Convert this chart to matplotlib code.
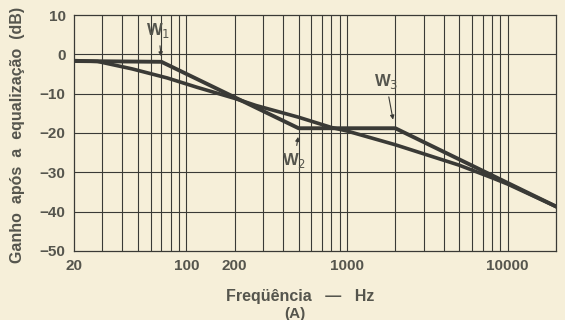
import numpy as np
import matplotlib
matplotlib.use("Agg")
import matplotlib.pyplot as plt

# asymptotic (straight-line) response, corners W1, W2, W3
asym_freq = [20, 70, 500, 2000, 20000]
asym_db = [-1.7, -1.9, -18.8, -18.8, -38.7]

# measured equalised response
curve_freq = [20, 28, 46, 76, 117, 200, 271, 500, 800, 1000, 2000, 5000, 8000, 10000, 20000]
curve_db = [-1.6, -1.8, -3.7, -6.0, -8.4, -11.2, -13.0, -16.0, -18.6, -19.5, -23.0, -28.2, -31.4, -33.0, -38.7]

xtick_vals = [20, 100, 200, 1000, 10000]
ytick_vals = [10, 0, -10, -20, -30, -40, -50]

paper = "#f6efd9"
ink = "#3a3a36"
text_col = "#55554d"

plt.rcParams["font.family"] = ["Liberation Sans", "DejaVu Sans"]
fig = plt.figure(figsize=(5.65, 3.2), dpi=100, facecolor=paper)
ax = fig.add_axes([0.131, 0.216, 0.853, 0.737], facecolor=paper)

ax.set_xscale("log")
ax.set_xlim(20, 20000)
ax.set_ylim(-50, 10)

# grid: every 1-9 step of each decade up to 10 kHz, every 10 dB
grid_f = [m * 10 ** d for d in (1, 2, 3, 4) for m in range(1, 10)]
grid_f = [f for f in grid_f if 20 < f <= 10000]
ax.vlines(grid_f, -50, 10, color=ink, lw=0.8, zorder=1)
ax.hlines(np.arange(-40, 10, 10), 20, 20000, color=ink, lw=0.8, zorder=1)

for s in ax.spines.values():
    s.set_color(ink)
    s.set_linewidth(0.9)

ax.plot(asym_freq, asym_db, color=ink, lw=2.8, solid_joinstyle="miter", zorder=3)
ax.plot(curve_freq, curve_db, color=ink, lw=2.6, zorder=3)

ax.set_xticks(xtick_vals)
ax.set_xticklabels([str(v) for v in xtick_vals])
ax.minorticks_off()
ax.set_yticks(ytick_vals)
ax.set_yticklabels([str(v).replace("-", "\u2212") for v in ytick_vals])
ax.tick_params(length=0, pad=6, labelsize=11, labelcolor=text_col)
for lab in ax.get_xticklabels() + ax.get_yticklabels():
    lab.set_fontweight("bold")

fig.text(300 / 565, 1 - 297 / 320, "Freqüência   \u2014   Hz", fontsize=11.5,
         fontweight="bold", color=text_col, ha="center", va="center")
fig.text(295 / 565, 1 - 314 / 320, "(A)", fontsize=11,
         fontweight="bold", color=text_col, ha="center", va="center")
fig.text(18 / 565, 1 - 135 / 320, "Ganho  após  a  equalização  (dB)",
         fontsize=11.5, fontweight="bold", color=text_col, rotation=90,
         ha="center", va="center")

arrow = dict(arrowstyle="-|>", color=ink, lw=0.8, mutation_scale=6)
ax.annotate("W$_1$", xy=(70, -1.2), xytext=(67, 6.0), ha="center", va="center",
            fontsize=12, fontweight="bold", color=text_col, arrowprops=arrow)
ax.annotate("W$_2$", xy=(500, -20.3), xytext=(470, -27.0), ha="center", va="center",
            fontsize=12, fontweight="bold", color=text_col, arrowprops=arrow)
ax.annotate("W$_3$", xy=(1950, -17.3), xytext=(1750, -7.0), ha="center", va="center",
            fontsize=12, fontweight="bold", color=text_col, arrowprops=arrow)

fig.savefig("out.png", dpi=100, facecolor=paper)
